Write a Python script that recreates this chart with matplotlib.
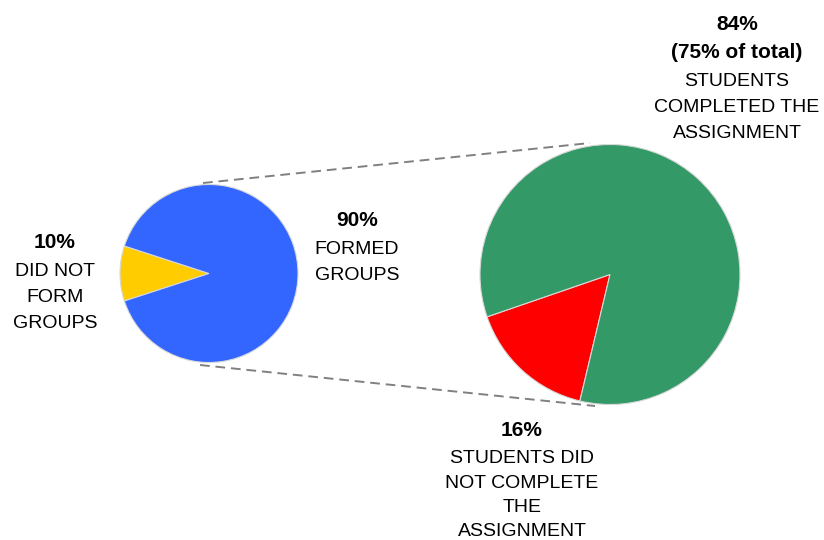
import matplotlib.pyplot as plt

# data
group_labels = ['DID NOT\nFORM\nGROUPS', 'FORMED\nGROUPS']
group_pcts = [10, 90]
group_colors = ['#FFCC00', '#3366FF']

done_labels = ['STUDENTS DID\nNOT COMPLETE\nTHE\nASSIGNMENT', 'STUDENTS\nCOMPLETED THE\nASSIGNMENT']
done_pcts = [16, 84]
done_colors = ['#FF0000', '#339966']
done_of_total = 75

W, H = 824, 540
plt.rcParams['font.family'] = ['Liberation Sans', 'DejaVu Sans']

fig = plt.figure(figsize=(W / 100, H / 100), dpi=100)
ax = fig.add_axes([0, 0, 1, 1])


def y(v):
    # image row -> data y
    return H - v


# connector lines (drawn first so pies sit on top)
line_kw = dict(color='#808080', lw=1.4, linestyle=(0, (5, 3)), zorder=1)
ax.plot([203, 590], [y(183), y(143)], **line_kw)
ax.plot([200, 595], [y(365), y(406)], **line_kw)

wedge_kw = dict(edgecolor='#d8d8d8', linewidth=0.8)

# small pie: grouping
small_start = 180 - group_pcts[0] * 3.6 / 2
ax.pie(group_pcts, colors=group_colors, startangle=small_start,
       center=(209, y(273.5)), radius=89, wedgeprops=wedge_kw)

# big pie: completion among those who formed groups
ax.pie(done_pcts, colors=done_colors, startangle=199,
       center=(610, y(274.5)), radius=130, wedgeprops=wedge_kw)

ax.set_xlim(0, W)
ax.set_ylim(0, H)
ax.set_aspect('equal')
ax.axis('off')

fs = 14


def label(x, top, bold_lines, lines, step=26):
    row = top
    for b in bold_lines:
        ax.text(x, y(row), b, ha='center', va='center', fontsize=fs + 1,
                fontweight='bold', color='black')
        row += step + 3
    for t in lines:
        ax.text(x, y(row), t, ha='center', va='center', fontsize=fs, color='black')
        row += step


label(55, 243, [f'{group_pcts[0]}%'], group_labels[0].split('\n'))
label(357, 221, [f'{group_pcts[1]}%'], group_labels[1].split('\n'))
label(737, 24, [f'{done_pcts[1]}%', f'({done_of_total}% of total)'],
      done_labels[1].split('\n'))
label(522, 431, [f'{done_pcts[0]}%'], done_labels[0].split('\n'), step=24.5)

fig.savefig('out.png', dpi=100)
